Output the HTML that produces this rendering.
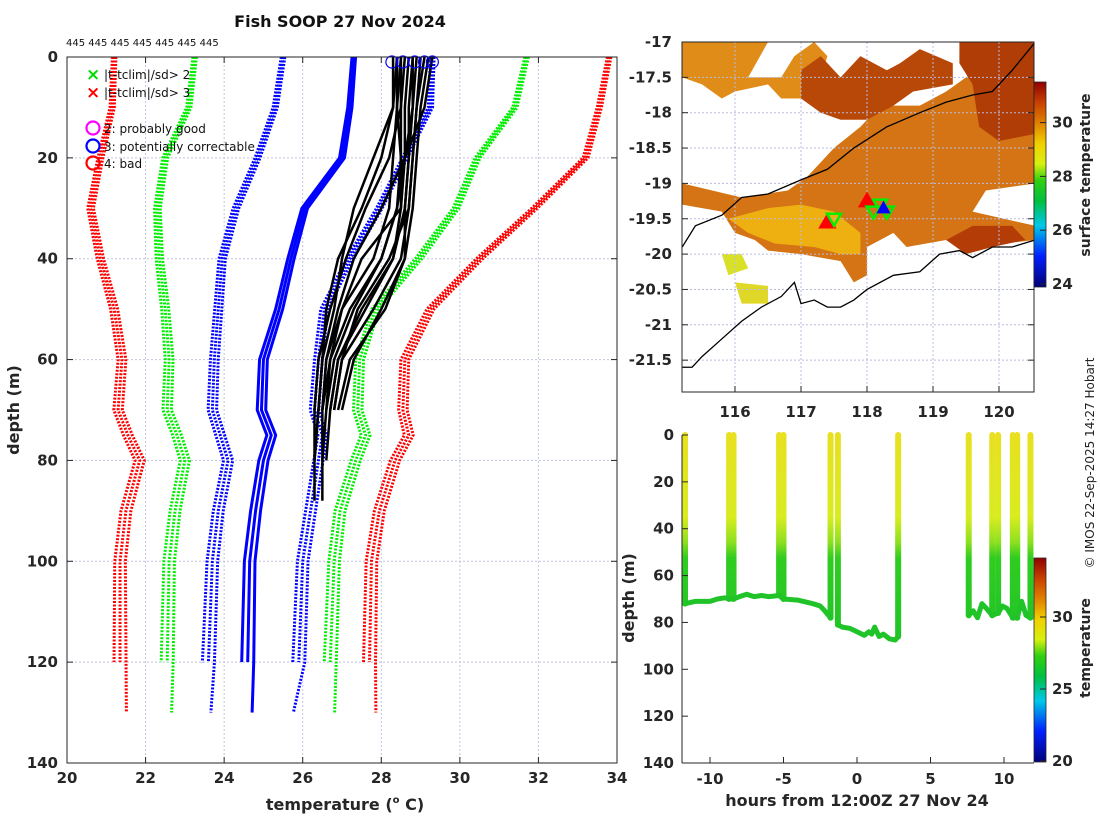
<!DOCTYPE html>
<html><head><meta charset="utf-8"><style>
body{margin:0;background:#fff}
svg{display:block;font-family:"DejaVu Sans","Liberation Sans",sans-serif}
.tk{font-size:15px;font-weight:bold;fill:#262626}
</style></head><body>
<svg id="s" width="1100" height="820" viewBox="0 0 1100 820">
<defs>
<linearGradient id="cmap" x1="0" y1="1" x2="0" y2="0">
<stop offset="0" stop-color="#00007a"/><stop offset="0.15" stop-color="#0020ff"/><stop offset="0.3" stop-color="#00c8e8"/><stop offset="0.42" stop-color="#00c040"/><stop offset="0.52" stop-color="#30d010"/><stop offset="0.6" stop-color="#d8f010"/><stop offset="0.7" stop-color="#f0d000"/><stop offset="0.8" stop-color="#e08000"/><stop offset="0.9" stop-color="#c84000"/><stop offset="1" stop-color="#900000"/>
</linearGradient>
<linearGradient id="castg" gradientUnits="userSpaceOnUse" x1="0" y1="435" x2="0" y2="640">
<stop offset="0" stop-color="#e8e020"/><stop offset="0.4" stop-color="#d8ec20"/><stop offset="0.52" stop-color="#90e020"/><stop offset="0.6" stop-color="#30cc20"/><stop offset="1" stop-color="#20c428"/>
</linearGradient>
</defs>
<text x="340" y="27" text-anchor="middle" font-size="16" font-weight="bold" fill="#111">Fish SOOP 27 Nov 2024</text>
<text x="66" y="46" font-size="10" fill="#111">445 445 445 445 445 445 445</text>
<g id="left"></g><g id="map"></g><g id="ts"></g>
<text transform="translate(1094,463) rotate(-90)" text-anchor="middle" font-size="12" fill="#222">© IMOS 22-Sep-2025 14:27 Hobart</text>
</svg>
<script>
// ---------- left profile chart data ----------
const climDepths=[0,10,20,30,40,50,60,70,75,80,90,100,120,130];
const climRedL=[21.2,21.15,20.85,20.6,20.85,21.2,21.4,21.3,21.55,21.85,21.5,21.35,21.35,21.35];
const climGreenL=[23.25,23.1,22.5,22.3,22.35,22.5,22.6,22.55,22.8,23.0,22.75,22.6,22.55,22.5];
const climBlueL=[25.5,25.3,24.85,24.3,23.95,23.85,23.75,23.7,23.9,24.1,23.85,23.7,23.6,23.5];
const climMean=[27.3,27.2,27.0,26.05,25.7,25.4,25.0,24.95,25.2,25.0,24.8,24.65,24.6,24.55];
const climBlueR=[29.3,29.25,28.6,27.95,27.2,26.55,26.4,26.3,26.5,26.4,26.2,26.0,25.9,25.6];
const climGreenR=[31.7,31.4,30.45,29.9,28.95,27.85,27.45,27.4,27.6,27.35,26.95,26.8,26.7,26.65];
const climRedR=[33.8,33.55,33.2,31.9,30.5,29.25,28.6,28.55,28.7,28.35,27.95,27.75,27.7,27.7];
const copyOffsets=[-0.09,0,0.09];
const copyEnds=[120,125,130];
const profDepths=[0,10,20,30,40,50,60,70,80,88];
const profiles=[
[28.4,28.4,28.3,28.2,27.8,27.0,26.6,26.5,26.5,26.5],
[28.5,28.5,28.5,28.4,28.0,27.3,26.8,26.6,26.5],
[28.8,28.8,28.7,28.6,28.3,27.5,26.9,26.7],
[29.0,28.9,28.8,28.7,28.5,27.8,27.0,26.8],
[29.2,29.0,28.9,28.8,28.6,28.1,27.2,26.9],
[28.4,28.3,27.8,27.3,27.0,26.8,26.5,26.4,26.3],
[28.6,28.5,28.2,27.6,27.1,26.7,26.4,26.3,26.3],
[28.9,28.8,28.6,28.0,27.3,26.9,26.6,26.5],
[29.3,29.1,28.6,28.4,28.0,27.2,26.7,26.5],
[28.5,28.4,28.5,28.5,28.3,27.6,26.9,26.7,26.6],
[28.7,28.6,28.6,28.5,27.5,27.0,26.7,26.6],
[29.1,28.9,28.8,28.7,28.2,27.4,27.0,26.8],
[28.3,28.3,28.0,27.5,26.9,26.6,26.5,26.4,26.3,26.3],
[28.8,28.7,28.7,28.6,28.6,28.0,27.3,27.0]];
const flagTemps=[28.27,28.55,28.85,29.1,29.3];
const tTicks=[20,22,24,26,28,30,32,34];
const dTicks=[0,20,40,60,80,100,120,140];
// ---------- map data ----------
const lonTicks=[116,117,118,119,120];
const latTicks=[-17,-17.5,-18,-18.5,-19,-19.5,-20,-20.5,-21,-21.5];
const sstTicks=[24,26,28,30];
const orangeMain=[[117.5,-18.5],[117.9,-18.2],[118.2,-17.9],[118.8,-17.9],[119.2,-17.7],[119.5,-17.5],[119.8,-17.3],[120.1,-17.0],[120.55,-17.0],[120.55,-19.0],[119.8,-19.1],[119.6,-19.4],[120.55,-19.6],[120.55,-19.8],[119.6,-19.9],[119.2,-19.8],[118.6,-19.9],[118.4,-19.7],[118.0,-19.9],[118.0,-20.3],[117.8,-20.4],[117.6,-20.1],[117.0,-20.0],[116.5,-19.95],[116.3,-19.8],[116.0,-19.7],[115.8,-19.4],[115.2,-19.3],[115.2,-19.0],[116.1,-19.2],[116.8,-19.1],[117.1,-18.9],[117.3,-18.7]];
const orangeTopLeft=[[115.2,-17.0],[116.5,-17.0],[116.2,-17.5],[116.7,-17.5],[116.9,-17.2],[117.2,-17.0],[117.4,-17.2],[117.2,-17.8],[116.7,-17.8],[116.5,-17.6],[116.0,-17.7],[115.8,-17.8],[115.5,-17.6],[115.2,-17.5]];
const redTop=[[117.0,-17.4],[117.3,-17.2],[117.6,-17.5],[117.9,-17.2],[118.3,-17.4],[118.5,-17.3],[118.8,-17.1],[119.3,-17.3],[119.3,-17.6],[118.7,-17.7],[118.4,-17.9],[118.0,-18.1],[117.6,-18.1],[117.3,-18.0],[117.0,-17.8]];
const redTopRight=[[119.4,-17.0],[120.55,-17.0],[120.55,-18.3],[120.0,-18.4],[119.7,-18.2],[119.6,-17.6],[119.4,-17.3]];
const redLowRight=[[119.2,-19.8],[119.6,-19.6],[120.2,-19.6],[120.4,-19.8],[119.9,-19.9],[119.5,-20.0]];
const yellowZone=[[115.9,-19.5],[116.5,-19.35],[117.0,-19.3],[117.5,-19.4],[117.9,-19.7],[117.9,-20.0],[117.6,-20.0],[117.2,-19.9],[116.6,-19.85],[116.2,-19.7]];
const greenYellowBits=[[115.8,-20.0],[116.1,-20.0],[116.2,-20.2],[115.9,-20.3]];
const greenYellowBits2=[[116.0,-20.4],[116.5,-20.45],[116.5,-20.7],[116.1,-20.7]];
const shelfLine=[[115.2,-19.9],[115.4,-19.6],[115.8,-19.45],[116.1,-19.2],[116.5,-19.15],[117.0,-18.95],[117.4,-18.8],[117.8,-18.5],[118.3,-18.2],[118.8,-18.0],[119.2,-17.85],[119.6,-17.75],[119.9,-17.7],[120.2,-17.4],[120.55,-17.0]];
const coastLine=[[115.2,-21.6],[115.35,-21.6],[115.5,-21.45],[115.8,-21.2],[116.1,-20.95],[116.4,-20.75],[116.7,-20.6],[116.9,-20.4],[117.0,-20.7],[117.2,-20.65],[117.4,-20.75],[117.6,-20.75],[117.8,-20.65],[118.0,-20.5],[118.4,-20.3],[118.8,-20.25],[119.1,-20.0],[119.4,-19.95],[119.6,-20.05],[119.9,-19.9],[120.2,-19.9],[120.55,-19.8]];
const markLon=[117.4,117.5,118.0,118.1,118.2,118.3,118.25];
const markLat=[-19.55,-19.5,-19.25,-19.4,-19.3,-19.4,-19.35];
const markKind=['up','down','up','down','down','down','blue'];
// ---------- time series data ----------
const castTimes=[-11.7,-8.7,-8.4,-5.3,-5.0,-1.8,-1.3,2.8,7.6,9.2,9.6,10.6,10.9,11.8];
const castBottoms=[72,70,70,68.5,70,78,81,86,77,77,76,78,78,78];
const trackTimes=[-11.7,-11,-10,-9.5,-9,-8.7,-8.4,-8,-7.5,-7,-6.5,-6,-5.3,-5,-4,-3,-2.5,-2.2,-1.8];
const trackDepths=[72,71,71,70,69.5,70,70,69,68,69,68.5,69,68.5,70,70.5,72,73,75,78];
const track2Times=[-1.3,-1,-0.5,0,0.5,0.8,1.0,1.2,1.5,1.8,2.2,2.6,2.8];
const track2Depths=[81,82,82.5,84,85.5,84,85,82,86,85,87,87.5,86];
const track3Times=[7.6,7.9,8.2,8.5,8.8,9.2,9.6,9.9,10.2,10.6,10.9,11.2,11.5,11.8];
const track3Depths=[77,75,78,72,74,77,76,73,74,78,78,71,77,78];
const hourTicks=[-10,-5,0,5,10];
const tsTempTicks=[20,25,30];

const NS='http://www.w3.org/2000/svg';
function mk(parent,tag,attrs){const e=document.createElementNS(NS,tag);for(const k in attrs)e.setAttribute(k,attrs[k]);parent.appendChild(e);return e;}
// ===== Left chart =====
const L=document.getElementById('left');
const xT=t=>67+(t-20)*(550/14);
const yD=d=>57+d*(706/140);
mk(L,'rect',{x:67,y:57,width:550,height:706,fill:'#fff',stroke:'none'});
tTicks.forEach(t=>{if(t>20&&t<34){const g=mk(L,'line',{x1:xT(t),x2:xT(t),y1:57,y2:763,stroke:'#c0c4e0','stroke-dasharray':'2,2','stroke-width':1});

}});
dTicks.forEach(d=>{if(d>0&&d<140){const g=mk(L,'line',{x1:67,x2:617,y1:yD(d),y2:yD(d),stroke:'#c0c4e0','stroke-dasharray':'2,2','stroke-width':1});

}});
function climLine(arr,color,dotted,name){
 copyOffsets.forEach((o,i)=>{
  const maxD=copyEnds[i];
  const pts=[];climDepths.forEach((d,j)=>{if(d<=maxD)pts.push(xT(arr[j]+o*(0.5+d/100))+','+yD(d));});
  const p=mk(L,'polyline',{points:pts.join(' '),fill:'none',stroke:color,'stroke-width':3,'stroke-dasharray':dotted?'2,1.5':'none'});
  
  
 });
}
climLine(climRedL,'#ff0000',true,'clim-minus-3sd');
climLine(climGreenL,'#00ee00',true,'clim-minus-2sd');
climLine(climBlueL,'#0000ff',true,'clim-minus-1sd');
climLine(climMean,'#0000ff',false,'clim-mean');
climLine(climBlueR,'#0000ff',true,'clim-plus-1sd');
climLine(climGreenR,'#00ee00',true,'clim-plus-2sd');
climLine(climRedR,'#ff0000',true,'clim-plus-3sd');
profiles.forEach((pr,i)=>{
 const pts=pr.map((t,j)=>xT(t)+','+yD(profDepths[j]));
 const p=mk(L,'polyline',{points:pts.join(' '),fill:'none',stroke:'#000','stroke-width':2.5,'stroke-linejoin':'round'});
 
 
});
flagTemps.forEach((t,i)=>{const c=mk(L,'circle',{cx:xT(t),cy:62,r:6,fill:'none',stroke:'#0000ff','stroke-width':1.2});

});
mk(L,'rect',{x:67,y:57,width:550,height:706,fill:'none',stroke:'#262626','stroke-width':1});
tTicks.forEach(t=>{mk(L,'line',{x1:xT(t),x2:xT(t),y1:57,y2:63,stroke:'#262626'});mk(L,'line',{x1:xT(t),x2:xT(t),y1:763,y2:757,stroke:'#262626'});
 const tx=mk(L,'text',{x:xT(t),y:783,'text-anchor':'middle',class:'tk'});tx.textContent=t;
 
 });
dTicks.forEach(d=>{mk(L,'line',{x1:67,x2:73,y1:yD(d),y2:yD(d),stroke:'#262626'});mk(L,'line',{x1:611,x2:617,y1:yD(d),y2:yD(d),stroke:'#262626'});
 const tx=mk(L,'text',{x:58,y:yD(d)+5,'text-anchor':'end',class:'tk'});tx.textContent=d;
 
 });
// legend
const lg=mk(L,'g',{});


[['x','#00dd00','|t-tclim|/sd> 2',74],['x','#ff0000','|t-tclim|/sd> 3',92],['o','#ff00ff','2: probably good',128],['o','#0000ff','3: potentially correctable',146],['o','#ff0000','4: bad',163]].forEach(e=>{
 if(e[0]=='x'){const t=mk(lg,'text',{x:86,y:e[3]+6,fill:e[1],'font-size':17,'font-weight':'bold'});t.textContent='×';}
 else mk(lg,'circle',{cx:93,cy:e[3],r:6.5,fill:'none',stroke:e[1],'stroke-width':2.2});
 const t=mk(lg,'text',{x:104,y:e[3]+5,'font-size':12,fill:'#111'});t.textContent=e[2];
 
 
});
const xl=mk(L,'text',{x:345,y:810,'text-anchor':'middle','font-size':16,'font-weight':'bold',fill:'#262626'});
xl.innerHTML='temperature (<tspan font-size="10" dy="-7">o</tspan><tspan dy="7"> C)</tspan>';


const yl=mk(L,'text',{transform:'translate(19,410) rotate(-90)','text-anchor':'middle','font-size':16,'font-weight':'bold',fill:'#262626'});yl.textContent='depth (m)';



// ===== Map =====
const M=document.getElementById('map');
const xL=lon=>735+(lon-116)*66;
const yL=lat=>42+(-17-lat)*70.7;
const poly=(arr)=>arr.map(p=>xL(p[0])+','+yL(p[1])).join(' ');
const clip=mk(M.ownerSVGElement.querySelector('defs'),'clipPath',{id:'mapclip'});
mk(clip,'rect',{x:682,y:42,width:352,height:350});
const MG=mk(M,'g',{'clip-path':'url(#mapclip)'});
[[orangeMain,'#d47414','sst-orange'],[orangeTopLeft,'#e08c18','sst-orange-nw'],[redTop,'#b84808','sst-red-n'],[redTopRight,'#b03c06','sst-red-ne'],[redLowRight,'#b43c06','sst-red-se'],[yellowZone,'#eeb010','sst-yellow'],[greenYellowBits,'#d8e028','sst-lime'],[greenYellowBits2,'#e0d828','sst-lime-2']].forEach(a=>{
 const p=mk(MG,'polygon',{points:poly(a[0]),fill:a[1]});
 
 
});
lonTicks.forEach(l=>{mk(MG,'line',{x1:xL(l),x2:xL(l),y1:42,y2:392,stroke:'#b8bce0','stroke-dasharray':'2,2'});});
latTicks.forEach(l=>{mk(MG,'line',{x1:682,x2:1034,y1:yL(l),y2:yL(l),stroke:'#b8bce0','stroke-dasharray':'2,2'});});
[[shelfLine,'shelf-contour'],[coastLine,'coastline']].forEach(a=>{const p=mk(MG,'polyline',{points:poly(a[0]),fill:'none',stroke:'#000','stroke-width':1.3});
 
 });
markLon.forEach((lo,i)=>{const x=xL(lo),y=yL(markLat[i]);let pts,col;
 if(markKind[i]=='up'){pts=[[x,y-7],[x-7,y+5],[x+7,y+5]];col='#ff0000';}
 else if(markKind[i]=='down'){pts=[[x-7,y-5],[x+7,y-5],[x,y+7]];col='#00ee00';}
 else {pts=[[x,y-5],[x-5,y+4],[x+5,y+4]];col='#0000ff';}
 const p=mk(MG,'polygon',{points:pts.map(q=>q.join(',')).join(' '),fill:markKind[i]=='down'?'none':col,stroke:col,'stroke-width':2.5});
 
 });
mk(M,'rect',{x:682,y:42,width:352,height:350,fill:'none',stroke:'#262626'});
lonTicks.forEach(l=>{mk(M,'line',{x1:xL(l),x2:xL(l),y1:392,y2:386,stroke:'#262626'});
 const t=mk(M,'text',{x:xL(l),y:417,'text-anchor':'middle',class:'tk'});t.textContent=l;
 
 });
latTicks.forEach(l=>{mk(M,'line',{x1:682,x2:688,y1:yL(l),y2:yL(l),stroke:'#262626'});mk(M,'line',{x1:1028,x2:1034,y1:yL(l),y2:yL(l),stroke:'#262626'});
 const t=mk(M,'text',{x:672,y:yL(l)+5,'text-anchor':'end',class:'tk'});t.textContent=l;
 
 });
const cbS=v=>284-(v-24)*26.9;
const cb=mk(M,'rect',{x:1034,y:82,width:12,height:205,fill:'url(#cmap)',stroke:'#262626','stroke-width':0.8});


sstTicks.forEach(v=>{mk(M,'line',{x1:1040,x2:1046,y1:cbS(v),y2:cbS(v),stroke:'#262626'});
 const t=mk(M,'text',{x:1052,y:cbS(v)+5,class:'tk'});t.textContent=v;
 
 });
const st=mk(M,'text',{transform:'translate(1090,175) rotate(-90)','text-anchor':'middle','font-size':14,'font-weight':'bold',fill:'#262626'});st.textContent='surface temperature';



// ===== Time series =====
const T=document.getElementById('ts');
const xH=h=>857+h*14.7;
const yM=d=>435+d*(328/140);
castTimes.forEach((h,i)=>{const p=mk(T,'line',{x1:xH(h),x2:xH(h),y1:yM(0),y2:yM(castBottoms[i]),stroke:'url(#castg)','stroke-width':6,'stroke-linecap':'round'});
 
 });
[[trackTimes,trackDepths],[track2Times,track2Depths],[track3Times,track3Depths]].forEach((tr,k)=>{
 const p=mk(T,'polyline',{points:tr[0].map((h,i)=>xH(h)+','+yM(tr[1][i])).join(' '),fill:'none',stroke:'#20c428','stroke-width':5,'stroke-linejoin':'round'});
 
 });
mk(T,'line',{x1:682,x2:682,y1:435,y2:763,stroke:'#262626'});
mk(T,'line',{x1:682,x2:1034,y1:763,y2:763,stroke:'#262626'});
hourTicks.forEach(h=>{mk(T,'line',{x1:xH(h),x2:xH(h),y1:763,y2:757,stroke:'#262626'});
 const t=mk(T,'text',{x:xH(h),y:784,'text-anchor':'middle',class:'tk'});t.textContent=h;
 
 });
dTicks.forEach(d=>{mk(T,'line',{x1:682,x2:688,y1:yM(d),y2:yM(d),stroke:'#262626'});
 const t=mk(T,'text',{x:674,y:yM(d)+5,'text-anchor':'end',class:'tk'});t.textContent=d;
 
 });
const hx=mk(T,'text',{x:857,y:806,'text-anchor':'middle','font-size':16,'font-weight':'bold',fill:'#262626'});hx.textContent='hours from 12:00Z 27 Nov 24';


const hy=mk(T,'text',{transform:'translate(634,598) rotate(-90)','text-anchor':'middle','font-size':16,'font-weight':'bold',fill:'#262626'});hy.textContent='depth (m)';


const cbT=v=>761-(v-20)*14.4;
const cb2=mk(T,'rect',{x:1034,y:558,width:12,height:204,fill:'url(#cmap)',stroke:'#262626','stroke-width':0.8});


tsTempTicks.forEach(v=>{mk(T,'line',{x1:1040,x2:1046,y1:cbT(v),y2:cbT(v),stroke:'#262626'});
 const t=mk(T,'text',{x:1052,y:cbT(v)+5,class:'tk'});t.textContent=v;
 
 });
const tt=mk(T,'text',{transform:'translate(1090,648) rotate(-90)','text-anchor':'middle','font-size':14,'font-weight':'bold',fill:'#262626'});tt.textContent='temperature';


</script>
</body></html>
